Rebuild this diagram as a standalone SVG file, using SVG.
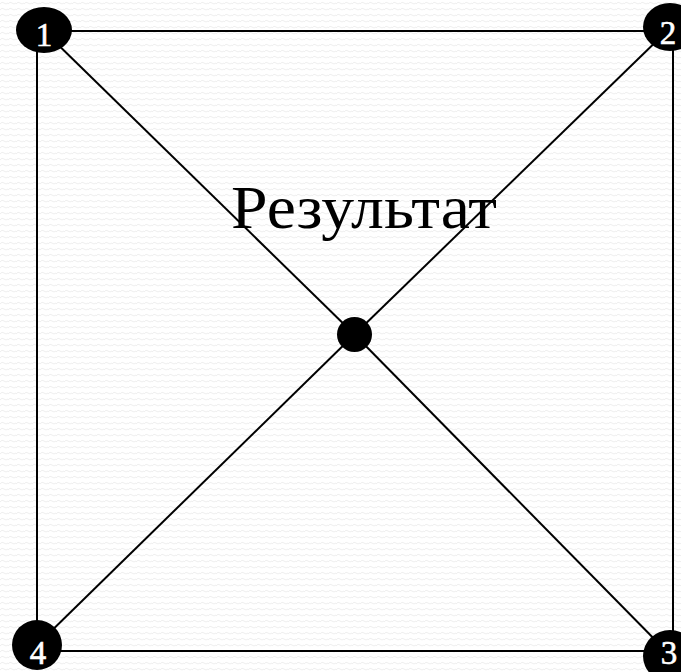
<svg xmlns="http://www.w3.org/2000/svg" width="681" height="672" viewBox="0 0 681 672">
<style>
.edge{stroke:#000;stroke-width:2;fill:none}
.node{fill:#000}
.num{fill:#fff;font-family:"Liberation Serif","DejaVu Serif",serif;font-size:33px;text-anchor:middle;stroke:#fff;stroke-width:0.6}
.label{fill:#000;font-family:"Liberation Serif","DejaVu Serif",serif;font-size:62px}
</style>
<defs>
<pattern id="bg" width="8" height="6" patternUnits="userSpaceOnUse">
<path d="M0 4 Q2 1 4 3 T8 3" fill="none" stroke="#eeeeee" stroke-width="1"/>
</pattern>
</defs>
<rect width="681" height="672" fill="#fff"/>
<rect width="681" height="672" fill="url(#bg)"/>
<g id="connectors">
<line class="edge" x1="44" y1="31" x2="670" y2="31"/>
<line class="edge" x1="37" y1="31" x2="37" y2="645"/>
<line class="edge" x1="673" y1="31" x2="673" y2="655"/>
<line class="edge" x1="37" y1="651" x2="670" y2="651"/>
<line class="edge" x1="44" y1="31" x2="354.5" y2="334.5"/>
<line class="edge" x1="670" y1="28" x2="354.5" y2="334.5"/>
<line class="edge" x1="37" y1="645" x2="354.5" y2="334.5"/>
<line class="edge" x1="670" y1="655" x2="354.5" y2="334.5"/>
</g>
<g id="center">
<circle class="node" cx="354.5" cy="334.5" r="17.5"/>
</g>
<g id="node1">
<ellipse class="node" cx="44" cy="30" rx="28" ry="23"/>
<text class="num" x="44" y="46">1</text>
</g>
<g id="node2">
<ellipse class="node" cx="670" cy="27" rx="27" ry="24"/>
<text class="num" x="668" y="44">2</text>
</g>
<g id="node3">
<ellipse class="node" cx="670" cy="656" rx="27" ry="26"/>
<text class="num" x="669" y="664" font-size="34">3</text>
</g>
<g id="node4">
<ellipse class="node" cx="37" cy="645" rx="25" ry="25"/>
<text class="num" x="38" y="664" font-size="35">4</text>
</g>
<g id="title">
<text class="label" x="231" y="228" textLength="266" lengthAdjust="spacingAndGlyphs">Результат</text>
</g>
</svg>
